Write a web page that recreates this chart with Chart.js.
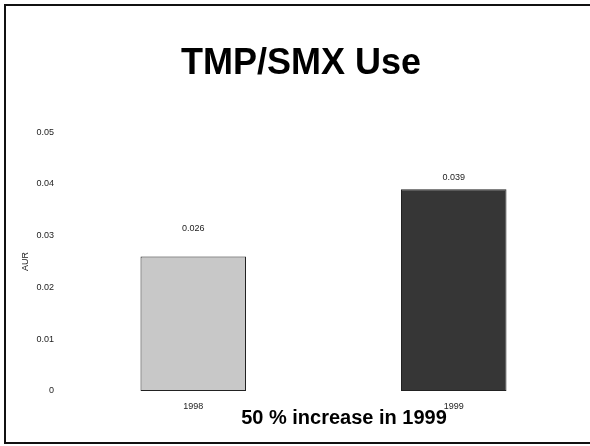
<!DOCTYPE html>
<html>
<head>
<meta charset="utf-8">
<script src="https://cdn.jsdelivr.net/npm/chart.js@4"></script>
<style>
  html, body { margin: 0; padding: 0; background: #fff; overflow: hidden; }
  #wrap { position: relative; width: 590px; height: 446px; overflow: hidden; }
  #frame {
    position: absolute; left: 4px; top: 4px; width: 620px; height: 436px;
    border: 2px solid #111; border-right: none; box-sizing: content-box;
  }
  #note {
    position: absolute; left: 0; width: 688px; top: 406px; text-align: center;
    font: bold 20px "Liberation Sans", Arial, sans-serif; color: #000;
  }
  canvas { position: absolute; left: 0; top: 0; }
</style>
</head>
<body>
<div id="wrap">
  <div id="frame"></div>
  <canvas id="chart" width="590" height="446"></canvas>
  <div id="note">50 % increase in 1999</div>
</div>
<script>
'use strict';

// data
var years = ['1998', '1999'];
var aurValues = [0.026, 0.039];
var valueLabels = ['0.026', '0.039'];
var yTicks = [0, 0.01, 0.02, 0.03, 0.04, 0.05];

var FONT = '"Liberation Sans", Arial, sans-serif';

// value labels above the bars
var barLabels = {
    id: 'barLabels',
    afterDatasetsDraw: function(chart, args, opts) {
        var ctx = chart.ctx;
        var meta = chart.getDatasetMeta(0);
        ctx.save();
        ctx.font = '9px ' + FONT;
        ctx.fillStyle = '#222';
        ctx.textAlign = 'center';
        ctx.textBaseline = 'middle';
        meta.data.forEach(function(bar, i) {
            ctx.fillText(valueLabels[i], bar.x, bar.y - opts.offsets[i]);
        });
        ctx.restore();
    }
};

var ctx = document.getElementById('chart').getContext('2d');
var chart = new Chart(ctx, {
    type: 'bar',
    data: {
        labels: years,
        datasets: [{
            data: aurValues,
            backgroundColor: ['#c8c8c8', '#363636'],
            borderColor: ['#222', '#222'],
            borderWidth: 1,
            borderSkipped: false,
            categoryPercentage: 1,
            barPercentage: 0.405
        }]
    },
    options: {
        responsive: false,
        animation: false,
        layout: { padding: { left: 18, right: 6, top: 0, bottom: 35 } },
        plugins: {
            legend: { display: false },
            tooltip: { enabled: false },
            title: {
                display: true,
                text: 'TMP/SMX Use',
                color: '#000',
                font: { family: FONT, size: 36, weight: 'bold' },
                padding: { top: 42, bottom: 47 }
            },
            barLabels: { offsets: [28, 12] }
        },
        scales: {
            x: {
                grid: { display: false, drawTicks: false },
                border: { display: false },
                ticks: { color: '#222', padding: 10, font: { family: FONT, size: 9 } },
                afterFit: function(scale) { scale.height = 20; }
            },
            y: {
                min: 0,
                max: 0.05,
                afterBuildTicks: function(scale) {
                    scale.ticks = yTicks.map(function(v) { return { value: v }; });
                },
                grid: { display: false, drawTicks: false },
                border: { display: false },
                ticks: {
                    color: '#222',
                    padding: 9,
                    font: { family: FONT, size: 9 },
                    callback: function(v) { return String(v); }
                },
                title: {
                    display: true,
                    text: 'AUR',
                    color: '#222',
                    font: { family: FONT, size: 9 },
                    padding: { top: 2, bottom: 0 }
                },
                afterFit: function(scale) { scale.width = 45; }
            }
        }
    },
    plugins: [barLabels]
});
</script>
</body>
</html>
